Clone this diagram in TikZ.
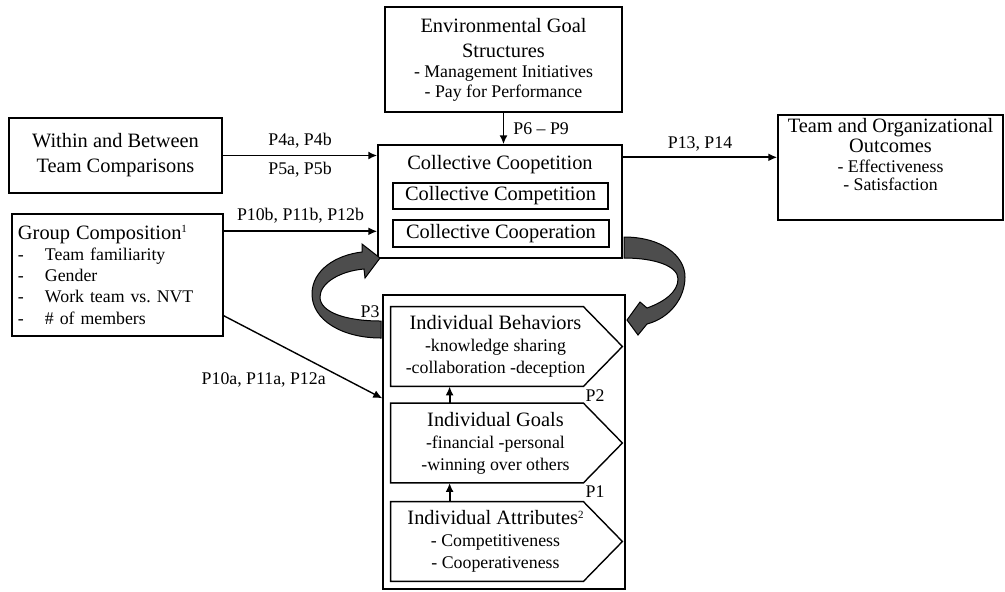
\documentclass[tikz,border=0pt]{standalone}
\usepackage{fontspec}
\setmainfont{Liberation Serif}
\usetikzlibrary{arrows.meta,calc}
\definecolor{Band}{HTML}{4D4D4D}
\newcommand\tsz{\fontsize{10.2}{12}\selectfont}
\newcommand\isz{\fontsize{8.9}{10}\selectfont}
\newcommand\supnum[1]{\raisebox{3.2pt}{\fontsize{5.5}{6}\selectfont #1}}

\begin{document}
\begin{tikzpicture}[x=0.5pt,y=-0.5pt,
  box/.style={draw,line width=0.7pt,inner sep=0pt,align=center,font=\isz},
  lbl/.style={font=\isz,inner sep=0pt},
  arr/.style={-{Latex[length=4.5pt,width=4pt]},line width=0.9pt},
  band/.style={fill=Band,draw=black,line width=0.5pt}]
  \useasboundingbox (0,0) rectangle (1005,591);
  % outer boxes
  \node[box,minimum width=118.5pt,minimum height=52.5pt] (env) at (503.5,59.5)
    {\tsz Environmental Goal\\[2.5pt]\tsz Structures\\\isz - Management Initiatives\\\isz - Pay for Performance};
  \node[box,minimum width=106.5pt,minimum height=37.5pt] (within) at (115.5,155.5)
    {\tsz Within and Between\\[2.5pt]\tsz Team Comparisons};
  \node[box,minimum width=105.5pt,minimum height=61pt,text width=99.5pt,align=left,inner xsep=3pt] (group) at (117.5,275)
    {{\tsz Group Composition\supnum{1}}\\[0.6pt]
     \isz\makebox[13.5pt][l]{-}Team familiarity\\[0.6pt]
     \makebox[13.5pt][l]{-}Gender\\[0.6pt]
     \makebox[13.5pt][l]{-}Work team vs.\ NVT\\[0.6pt]
     \makebox[13.5pt][l]{-}\# of members};
  \node[box,minimum width=112.5pt,minimum height=52.5pt] (out) at (890.5,167.5) {};
  \node[lbl,align=center,anchor=north] (outtxt) at (890.5,117.5)
    {\tsz Team and Organizational\\\tsz Outcomes\\\isz - Effectiveness\\[-1pt]\isz - Satisfaction};
  % coopetition
  \node[box,minimum width=122pt,minimum height=56.5pt] (coll) at (500,201.5) {};
  \node[lbl,font=\tsz] (colltitle) at (500,165) {Collective Coopetition};
  \node[box,font=\tsz,minimum width=107.5pt,minimum height=13pt] (comp) at (500.5,196) {Collective Competition};
  \node[box,font=\tsz,minimum width=108pt,minimum height=13.5pt] (coop) at (501,233.5) {Collective Cooperation};
  % individual level
  \node[box,minimum width=121pt,minimum height=147pt] (indiv) at (504,442) {};
  \node[lbl,align=center,minimum width=104.5pt,minimum height=39.5pt] (behav) at (495.5,346.5)
    {\tsz Individual Behaviors\\[1pt]\isz -knowledge sharing\\[1pt]\isz -collaboration -deception};
  \node[lbl,align=center,minimum width=104.5pt,minimum height=39.5pt] (goals) at (495.5,443)
    {\tsz Individual Goals\\[1pt]\isz -financial -personal\\[1pt]\isz -winning over others};
  \node[lbl,align=center,minimum width=104.5pt,minimum height=39.5pt] (attr) at (495.5,541.5)
    {\tsz Individual Attributes\supnum{2}\\[1pt]\isz - Competitiveness\\[1pt]\isz - Cooperativeness};
  \foreach \n in {behav,goals,attr}
    \draw[line width=0.7pt] (\n.north west) -- ([xshift=-8.5pt]\n.north east) -- ([xshift=11pt]\n.east)
      -- ([xshift=-8.5pt]\n.south east) -- (\n.south west) -- cycle;
  \draw[arr] ([xshift=29.5pt]goals.north west) -- ([xshift=29.5pt]behav.south west);
  \draw[arr] ([xshift=29.5pt]attr.north west) -- ([xshift=29.5pt]goals.south west);
  \node[lbl] (p2) at (595,396) {P2};
  \node[lbl] (p1) at (595,492) {P1};
  % propositions
  \draw[arr] (env.south) -- (env.south |- coll.north) node[lbl,midway,right=4.5pt] (p69) {P6 – P9};
  \draw[arr] (within.east) -- (within.east -| coll.west)
    node[lbl,midway,above=3pt] (p45a) {P4a, P4b}
    node[lbl,midway,below=3pt] (p45b) {P5a, P5b};
  \draw[arr] ([yshift=-9pt]group.north east) coordinate (g1) -- (g1 -| coll.west)
    node[lbl,midway,above=3.5pt] (p1012b) {P10b, P11b, P12b};
  \draw[arr] ([yshift=-6.5pt]coll.north east) coordinate (c1) -- (c1 -| out.west)
    node[lbl,midway,above=2.5pt] (p1314) {P13, P14};
  \draw[arr,line width=0.7pt] ([yshift=10.5pt]group.south east) -- ([yshift=-52pt]indiv.north west)
    node[lbl,pos=0.66,anchor=north east,inner sep=1pt] (p1012a) {P10a, P11a, P12a};
  % feedback loops
  \filldraw[band] (381,338) .. controls (342,338) and (312,320) .. (312,294)
    .. controls (312,270) and (336,255) .. (362,252)
    -- (362,244) -- (380,258) -- (365,278) -- (364,269)
    .. controls (340,271) and (320,283) .. (320,297)
    .. controls (320,312) and (345,321) .. (381,321) -- cycle;
  \filldraw[band] (624,237) .. controls (662,237) and (685,256) .. (685,277)
    .. controls (685,298) and (670,318) .. (647,324)
    -- (638,335) -- (627,320) -- (640,302) -- (647,308)
    .. controls (664,302) and (678,292) .. (678,279)
    .. controls (678,266) and (655,258) .. (624,258) -- cycle;
  \node[lbl] (p3) at (370,312) {P3};
\end{tikzpicture}
\end{document}
